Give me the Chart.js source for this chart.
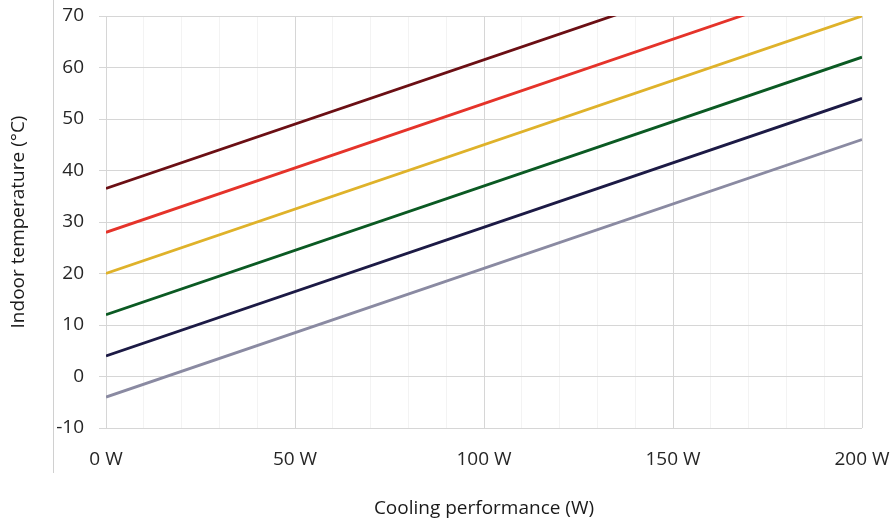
<!DOCTYPE html>
<html>
<head>
<meta charset="utf-8">
<script src="https://cdn.jsdelivr.net/npm/chart.js@4/dist/chart.umd.min.js"></script>
<style>
  html, body { margin: 0; padding: 0; background: #fff; }
  #wrap { width: 896px; height: 520px; }
</style>
</head>
<body>
<div id="wrap"><canvas id="myChart"></canvas></div>
<script>
// cooling power range (W) for each line: start and end
var powerRange = [0, 200];
// indoor temperature at 0 W and at 200 W, one pair per curve (bottom to top)
var greyLine = [-4, 46];
var navyLine = [4, 54];
var greenLine = [12, 62];
var yellowLine = [20, 70];
var redLine = [28, 78];
var darkRedLine = [36.5, 86.5];

var lineColours = ['#8a8aa2', '#1c1a45', '#0b5a23', '#dfb22a', '#e5332a', '#6b0f14'];
var allLines = [greyLine, navyLine, greenLine, yellowLine, redLine, darkRedLine];

var font = { family: 'Open Sans', size: 19 };

// build one dataset per line from the arrays above
var datasets = allLines.map(function (vals, i) {
  return {
    data: [{ x: powerRange[0], y: vals[0] }, { x: powerRange[1], y: vals[1] }],
    borderColor: lineColours[i],
    borderWidth: 2.8,
    pointRadius: 0,
    fill: false,
    clip: 0
  };
});

// thin grey rule down the left side of the frame
var leftRule = {
  id: 'leftRule',
  beforeDraw: function (chart) {
    var c = chart.ctx;
    c.save();
    c.strokeStyle = '#d0d0d0';
    c.lineWidth = 1;
    c.beginPath();
    c.moveTo(53.5, 0);
    c.lineTo(53.5, 473);
    c.stroke();
    c.restore();
  }
};

// keep the plot box fixed, labels may hang over the edges
function noPadding(s) {
  s.paddingLeft = 0;
  s.paddingRight = 0;
  s.paddingTop = 0;
  s.paddingBottom = 0;
}

var ctx = document.getElementById('myChart').getContext('2d');
var myChart = new Chart(ctx, {
  type: 'line',
  data: { datasets: datasets },
  plugins: [leftRule],
  options: {
    responsive: true,
    maintainAspectRatio: false,
    animation: false,
    layout: { padding: { left: 0, right: 34, top: 16, bottom: 0 } },
    plugins: { legend: { display: false }, tooltip: { enabled: false } },
    scales: {
      x: {
        type: 'linear',
        min: 0,
        max: 200,
        border: { display: false },
        grid: {
          drawTicks: false,
          color: function (c) { return c.tick.value % 50 === 0 ? '#d6d6d6' : '#f3f3f3'; }
        },
        ticks: {
          stepSize: 10,
          autoSkip: false,
          maxRotation: 0,
          padding: 20,
          color: '#262626',
          font: font,
          callback: function (v) { return v % 50 === 0 ? v + ' W' : ''; }
        },
        title: {
          display: true,
          text: 'Cooling performance (W)',
          color: '#1a1a1a',
          font: font,
          padding: { top: 0, bottom: 0 }
        },
        afterFit: function (s) { s.height = 92; noPadding(s); }
      },
      y: {
        min: -10,
        max: 70,
        border: { display: false },
        grid: { color: '#d6d6d6', tickLength: 7 },
        ticks: { stepSize: 10, padding: 15, color: '#262626', font: font },
        title: {
          display: true,
          text: 'Indoor temperature (°C)',
          color: '#1a1a1a',
          font: font,
          padding: { top: 7, bottom: 0 }
        },
        afterFit: function (s) { s.width = 106; noPadding(s); }
      }
    }
  }
});
</script>
</body>
</html>
